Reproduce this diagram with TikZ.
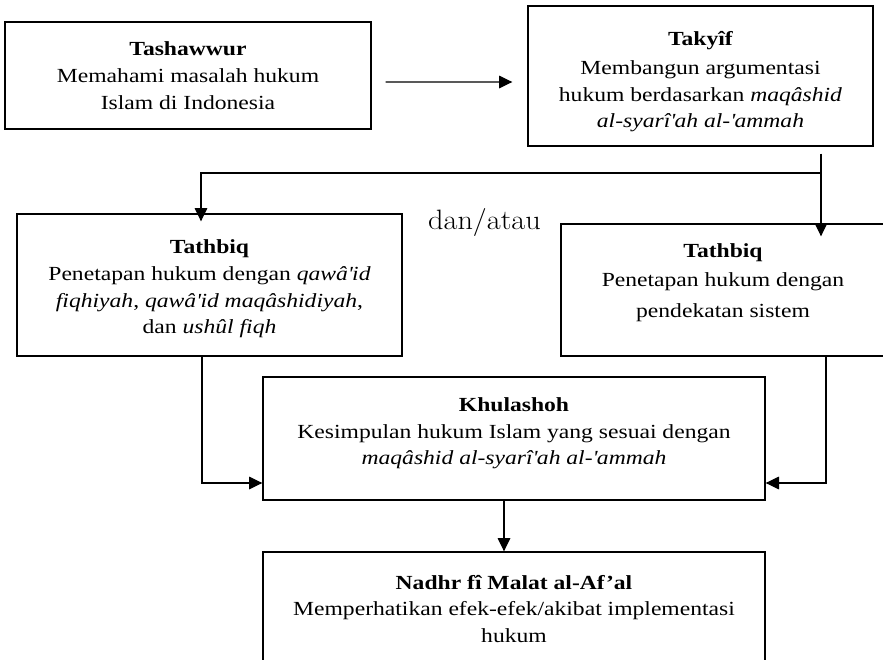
\documentclass[tikz,border=0pt]{standalone}
\usepackage{fontspec}
\newfontfamily\boxfont{Liberation Serif}[FakeStretch=1.18]
\usetikzlibrary{arrows.meta}
\tikzset{
  box/.style={draw, line width=1pt, align=center, inner sep=0pt,
    font=\boxfont\fontsize{15}{20}\selectfont},
  arr/.style={-{Triangle[length=10pt,width=9.5pt]}, line width=0.9pt}
}
\newcommand{\apos}{\textquotesingle}

\begin{document}
\begin{tikzpicture}[x=0.75pt,y=-0.75pt]
  \useasboundingbox (0,0) rectangle (883,660);
  \clip (0,0) rectangle (883,660);

  % boxes
  \node[box,minimum width=274.5pt,minimum height=80.25pt] (tash) at (188,75.5)
    {\textbf{Tashawwur}\\Memahami masalah hukum\\Islam di Indonesia};
  \node[box,minimum width=258.75pt,minimum height=105pt] (takyif) at (700.5,76)
    {\mbox{}\\[-1pt]\textbf{Takyîf}\\[2pt]Membangun argumentasi\\hukum berdasarkan \textit{maqâshid}\\\textit{al-syarî\apos ah al-\apos ammah}};
  \node[box,minimum width=288.75pt,minimum height=106.5pt] (tath1) at (209.5,285)
    {\mbox{}\\[-3.5pt]\textbf{Tathbiq}\\Penetapan hukum dengan \textit{qawâ\apos id}\\\textit{fiqhiyah}, \textit{qawâ\apos id maqâshidiyah},\\dan \textit{ushûl fiqh}};
  \node[box,minimum width=243pt,minimum height=99pt] (tath2) at (723,290)
    {\textbf{Tathbiq}\\[1.5pt]Penetapan hukum dengan\\[3pt]pendekatan sistem\\[-6pt]\mbox{}};
  \node[box,minimum width=376.5pt,minimum height=92.25pt] (khul) at (514,438.5)
    {\textbf{Khulashoh}\\Kesimpulan hukum Islam yang sesuai dengan\\\textit{maqâshid al-syarî\apos ah al-\apos ammah}\\[-9.2pt]\mbox{}};
  \node[box,minimum width=376.5pt,minimum height=85.5pt] (nadhr) at (514,609)
    {\textbf{Nadhr fî Malat al-Af’al}\\Memperhatikan efek-efek/akibat implementasi\\hukum};

  \node[anchor=base,inner sep=0pt,font=\fontsize{21}{24}\selectfont] (danatau) at (484.5,229)
    {\scalebox{1.08}[1]{dan/atau}};

  % connectors
  \coordinate (split) at (821,173);
  \coordinate (lturn) at (201,173);
  \coordinate (lin) at (202,483);
  \coordinate (rin) at (826,483);

  \draw[arr] ([xshift=10.5pt,yshift=-4.9pt]tash.east) -- ([xshift=-11.25pt,yshift=-4.5pt]takyif.west);
  \draw[arr,shorten >=-9.75pt] ([yshift=-5.25pt]takyif.south -| split) -- (tath2.north -| split);
  \draw[arr,shorten >=-6pt] (split) -- (lturn) -- (tath1.north -| lturn);
  \draw[arr] (tath1.south -| lin) |- (khul.west |- lin);
  \draw[arr] (tath2.south -| rin) |- (khul.east |- rin);
  \draw[arr] ([xshift=-7.5pt]khul.south) -- ([xshift=-7.5pt]nadhr.north);
\end{tikzpicture}
\end{document}
